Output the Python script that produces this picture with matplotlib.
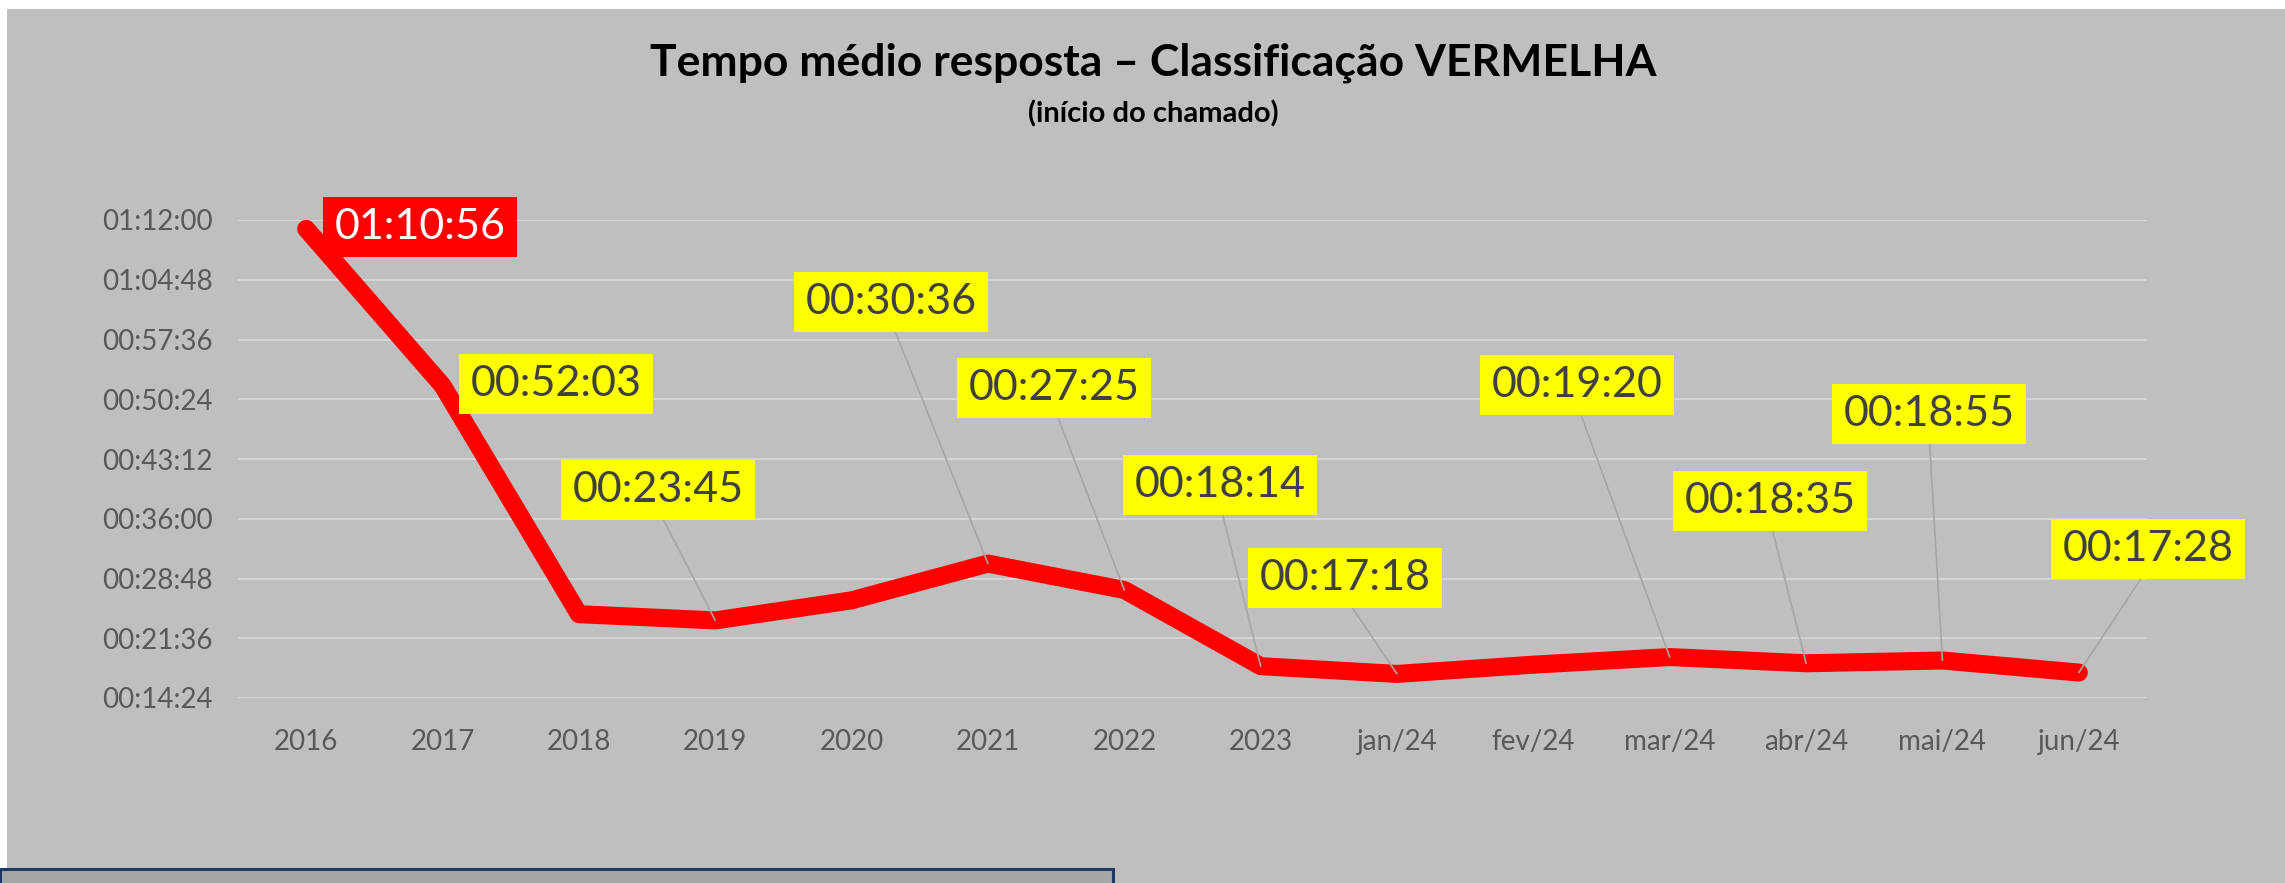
import matplotlib
matplotlib.use("Agg")
import matplotlib.pyplot as plt
from matplotlib.patches import Rectangle
from matplotlib.ticker import FuncFormatter, FixedLocator

# ---------------- data ----------------
categories = ["2016", "2017", "2018", "2019", "2020", "2021", "2022", "2023",
              "jan/24", "fev/24", "mar/24", "abr/24", "mai/24", "jun/24"]
# average response time in seconds
values_s = [4256, 3123, 1470, 1425, 1570, 1836, 1645, 1094,
            1038, 1105, 1160, 1115, 1135, 1048]
# which points carry a data label
labeled = [True, True, False, True, False, True, True, True,
           True, False, True, True, True, True]
y_ticks_s = [864, 1296, 1728, 2160, 2592, 3024, 3456, 3888, 4320]

title = "Tempo médio resposta – Classificação VERMELHA"
subtitle = "(início do chamado)"

# ---------------- layout (label box centres, figure pixels from top-left) ----------------
label_pos_px = [(420, 227), (556, 384), None, (658, 490), None, (891, 302),
                (1054, 388), (1220, 485), (1345, 578), None, (1577, 385),
                (1770, 501), (1929, 414), (2148, 549)]

W, H = 2285, 883
fig = plt.figure(figsize=(W / 100, H / 100), dpi=100, facecolor="white")
FONT = "Lato"
plt.rcParams["font.family"] = [FONT, "DejaVu Sans"]

# grey chart area
bg = Rectangle((7 / W, 0), 1 - 7 / W, (H - 9) / H, transform=fig.transFigure,
               facecolor="#BFBFBF", edgecolor="none", zorder=-10)
fig.add_artist(bg)
# partial box at bottom left
box_bl = Rectangle((0, -0.01), 1113 / W, (0.01 + (H - 869) / H), transform=fig.transFigure,
                   facecolor="#A6A6A6", edgecolor="#1F3864", linewidth=2.2, zorder=-5)
fig.add_artist(box_bl)

ax_left, ax_right = 238 / W, 2147 / W
ax_top, ax_bottom = 1 - 220 / H, 1 - 698 / H
ax = fig.add_axes([ax_left, ax_bottom, ax_right - ax_left, ax_top - ax_bottom])
ax.set_zorder(5)
ax.set_facecolor("none")

x = list(range(len(categories)))
ax.plot(x, values_s, color="#FF0000", linewidth=13, solid_capstyle="round",
        solid_joinstyle="round", zorder=3)

ax.set_xlim(-0.5, len(categories) - 0.5)
ax.set_ylim(y_ticks_s[0], y_ticks_s[-1])
ax.yaxis.set_major_locator(FixedLocator(y_ticks_s))


def fmt_hms(v, pos=None):
    v = int(round(v))
    return f"{v // 3600:02d}:{(v % 3600) // 60:02d}:{v % 60:02d}"


ax.yaxis.set_major_formatter(FuncFormatter(fmt_hms))
ax.set_xticks(x)
ax.set_xticklabels(categories)
ax.grid(axis="y", color="#D9D9D9", linewidth=1.2, zorder=1)
ax.grid(axis="x", visible=False)
ax.set_axisbelow(True)
for s in ax.spines.values():
    s.set_visible(False)
ax.tick_params(axis="both", length=0, labelcolor="#595959", labelsize=20)
ax.tick_params(axis="y", pad=18)
ax.tick_params(axis="x", pad=22)
for lab in ax.get_xticklabels() + ax.get_yticklabels():
    lab.set_fontfamily(FONT)

# data labels
for i, (xi, v) in enumerate(zip(x, values_s)):
    if not labeled[i]:
        continue
    cx, cy = label_pos_px[i]
    first = i == 0
    box = dict(boxstyle="square,pad=0.26", facecolor="#FF0000" if first else "#FFFF00",
               edgecolor="none")
    arrow = None if i in (0, 1) else dict(arrowstyle="-", color="#A6A6A6", linewidth=1.2,
                                          shrinkA=0, shrinkB=0, relpos=(0.5, 0.0))
    ax.annotate(fmt_hms(v), xy=(xi, v), xycoords="data",
                xytext=(cx, H - cy), textcoords="figure pixels",
                ha="center", va="center", fontsize=31, fontfamily=FONT,
                color="white" if first else "#404040", bbox=box,
                arrowprops=arrow, zorder=5, annotation_clip=False)

fig.text(1153 / W, 1 - 63 / H, title, ha="center", va="center", fontsize=32,
         fontweight="bold", color="black", fontfamily=FONT)
fig.text(1153 / W, 1 - 114 / H, subtitle, ha="center", va="center", fontsize=21,
         fontweight="bold", color="black", fontfamily=FONT)

fig.savefig("out.png", dpi=100, facecolor="white")
